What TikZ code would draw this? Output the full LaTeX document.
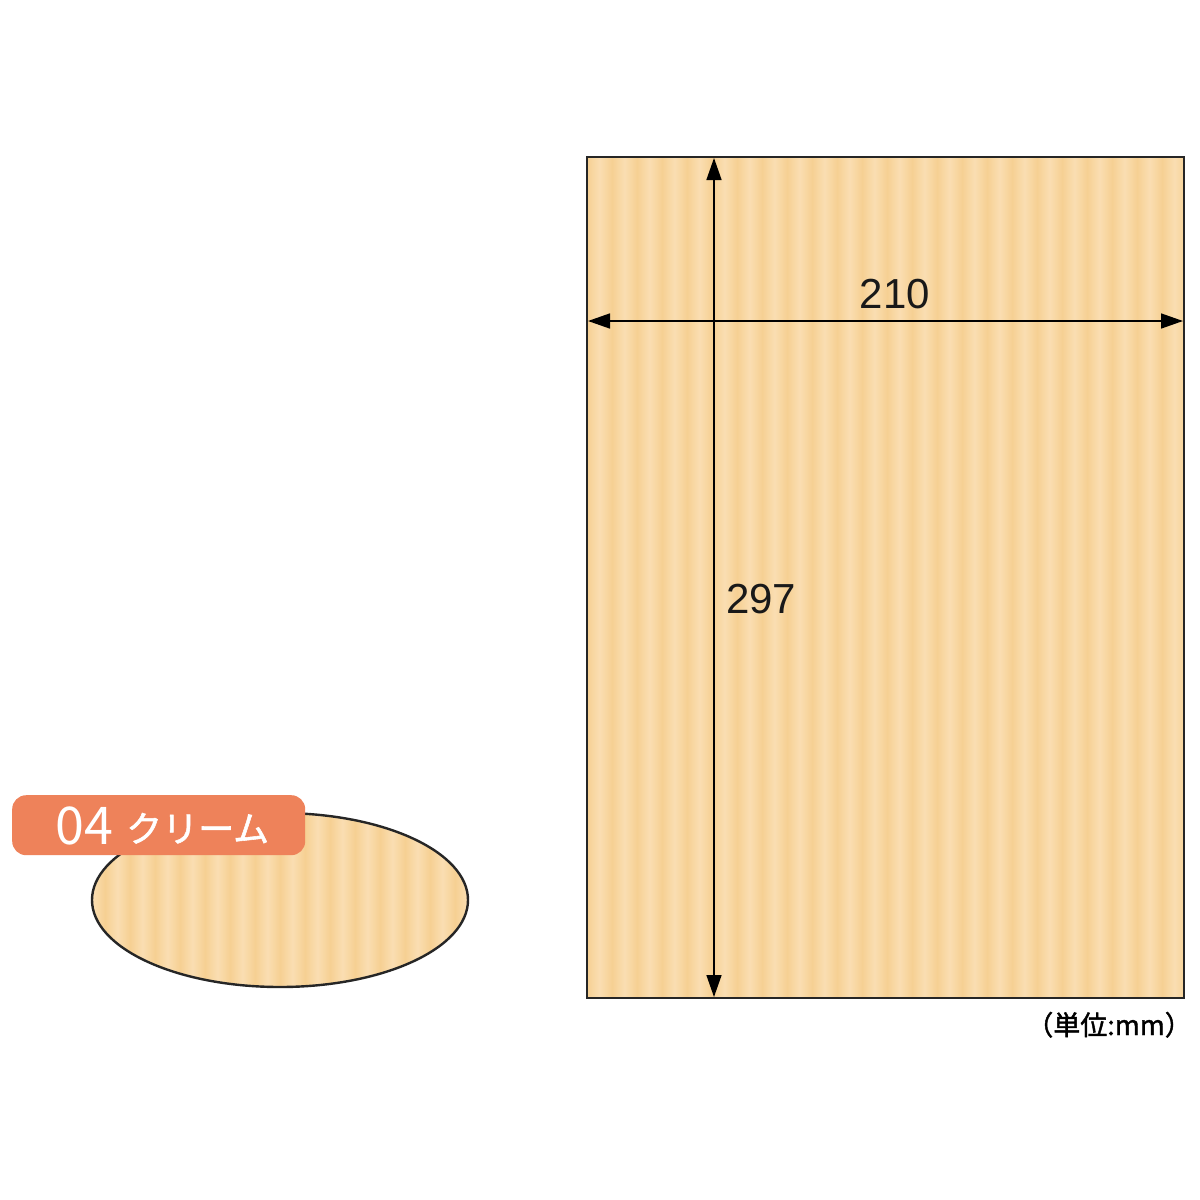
\documentclass[tikz,border=0pt]{standalone}
\usepackage{fontspec}
\setmainfont{Liberation Sans}
\newfontfamily\jpfont{Noto Sans CJK JP}
\newfontfamily\jpbold{Noto Sans CJK JP}[FakeBold=1.5]
\usetikzlibrary{arrows.meta}
\definecolor{paperbase}{HTML}{F8D69F}
\definecolor{paperdark}{HTML}{F6D093}
\definecolor{paperlight}{HTML}{FADEB2}
\definecolor{labelorange}{HTML}{EE825A}
\tikzset{
  dimline/.style={line width=1.5pt, {Triangle[length=22pt,width=15pt]}-{Triangle[length=22pt,width=15pt]}},
  outline/.style={line width=2.4pt, draw=black!85},
  stripe/.style={left color=paperdark, right color=paperdark, middle color=paperlight},
  numtext/.style={font=\fontsize{42}{46}\selectfont, text=black!90, inner sep=0pt},
}
\begin{document}
\begin{tikzpicture}[x=1pt,y=-1pt]
\useasboundingbox (0,0) rectangle (1200,1200);
\fill[white] (0,0) rectangle (1200,1200);
% sheet
\begin{scope}
  \clip (587,157) rectangle (1184,998);
  \fill[paperbase] (587,157) rectangle (1184,998);
  \foreach \x in {587,612,...,1184} {
    \shade[stripe] (\x,157) rectangle (\x+25,998);
  }
\end{scope}
\draw[outline] (587,157) rectangle (1184,998);
% ellipse swatch
\begin{scope}
  \clip (280,900) ellipse [x radius=188, y radius=87];
  \foreach \x in {80,105,...,480} {
    \shade[stripe] (\x,800) rectangle (\x+25,1000);
  }
\end{scope}
\draw[outline] (280,900) ellipse [x radius=188, y radius=87];
% label
\node[fill=labelorange, rounded corners=14pt, minimum width=293pt, minimum height=60pt, inner sep=0pt, anchor=north west] (label) at (12,795) {};
\node[text=white, font=\jpfont\fontsize{52}{56}\selectfont, inner sep=0pt, anchor=base west] (labnum) at (55,844) {04};
\node[text=white, font=\jpbold\fontsize{36}{40}\selectfont, inner sep=0pt, anchor=base west] (labname) at (126,842) {クリーム};
% dimension arrows
\coordinate (vtop) at (714,158);
\coordinate (vbot) at (714,997);
\coordinate (hleft) at (588,321);
\coordinate (hright) at (1183,321);
\draw[dimline] (vtop) -- (vbot);
\draw[dimline] (hleft) -- (hright);
\node[numtext, anchor=base] (w) at (895,308) {210};
\node[numtext, anchor=base west] (h) at (726,613) {297};
\node[font=\jpbold\fontsize{27}{30}\selectfont, inner sep=0pt, anchor=base east] (unit) at (1192,1035) {（単位:mm）};
\end{tikzpicture}
\end{document}
